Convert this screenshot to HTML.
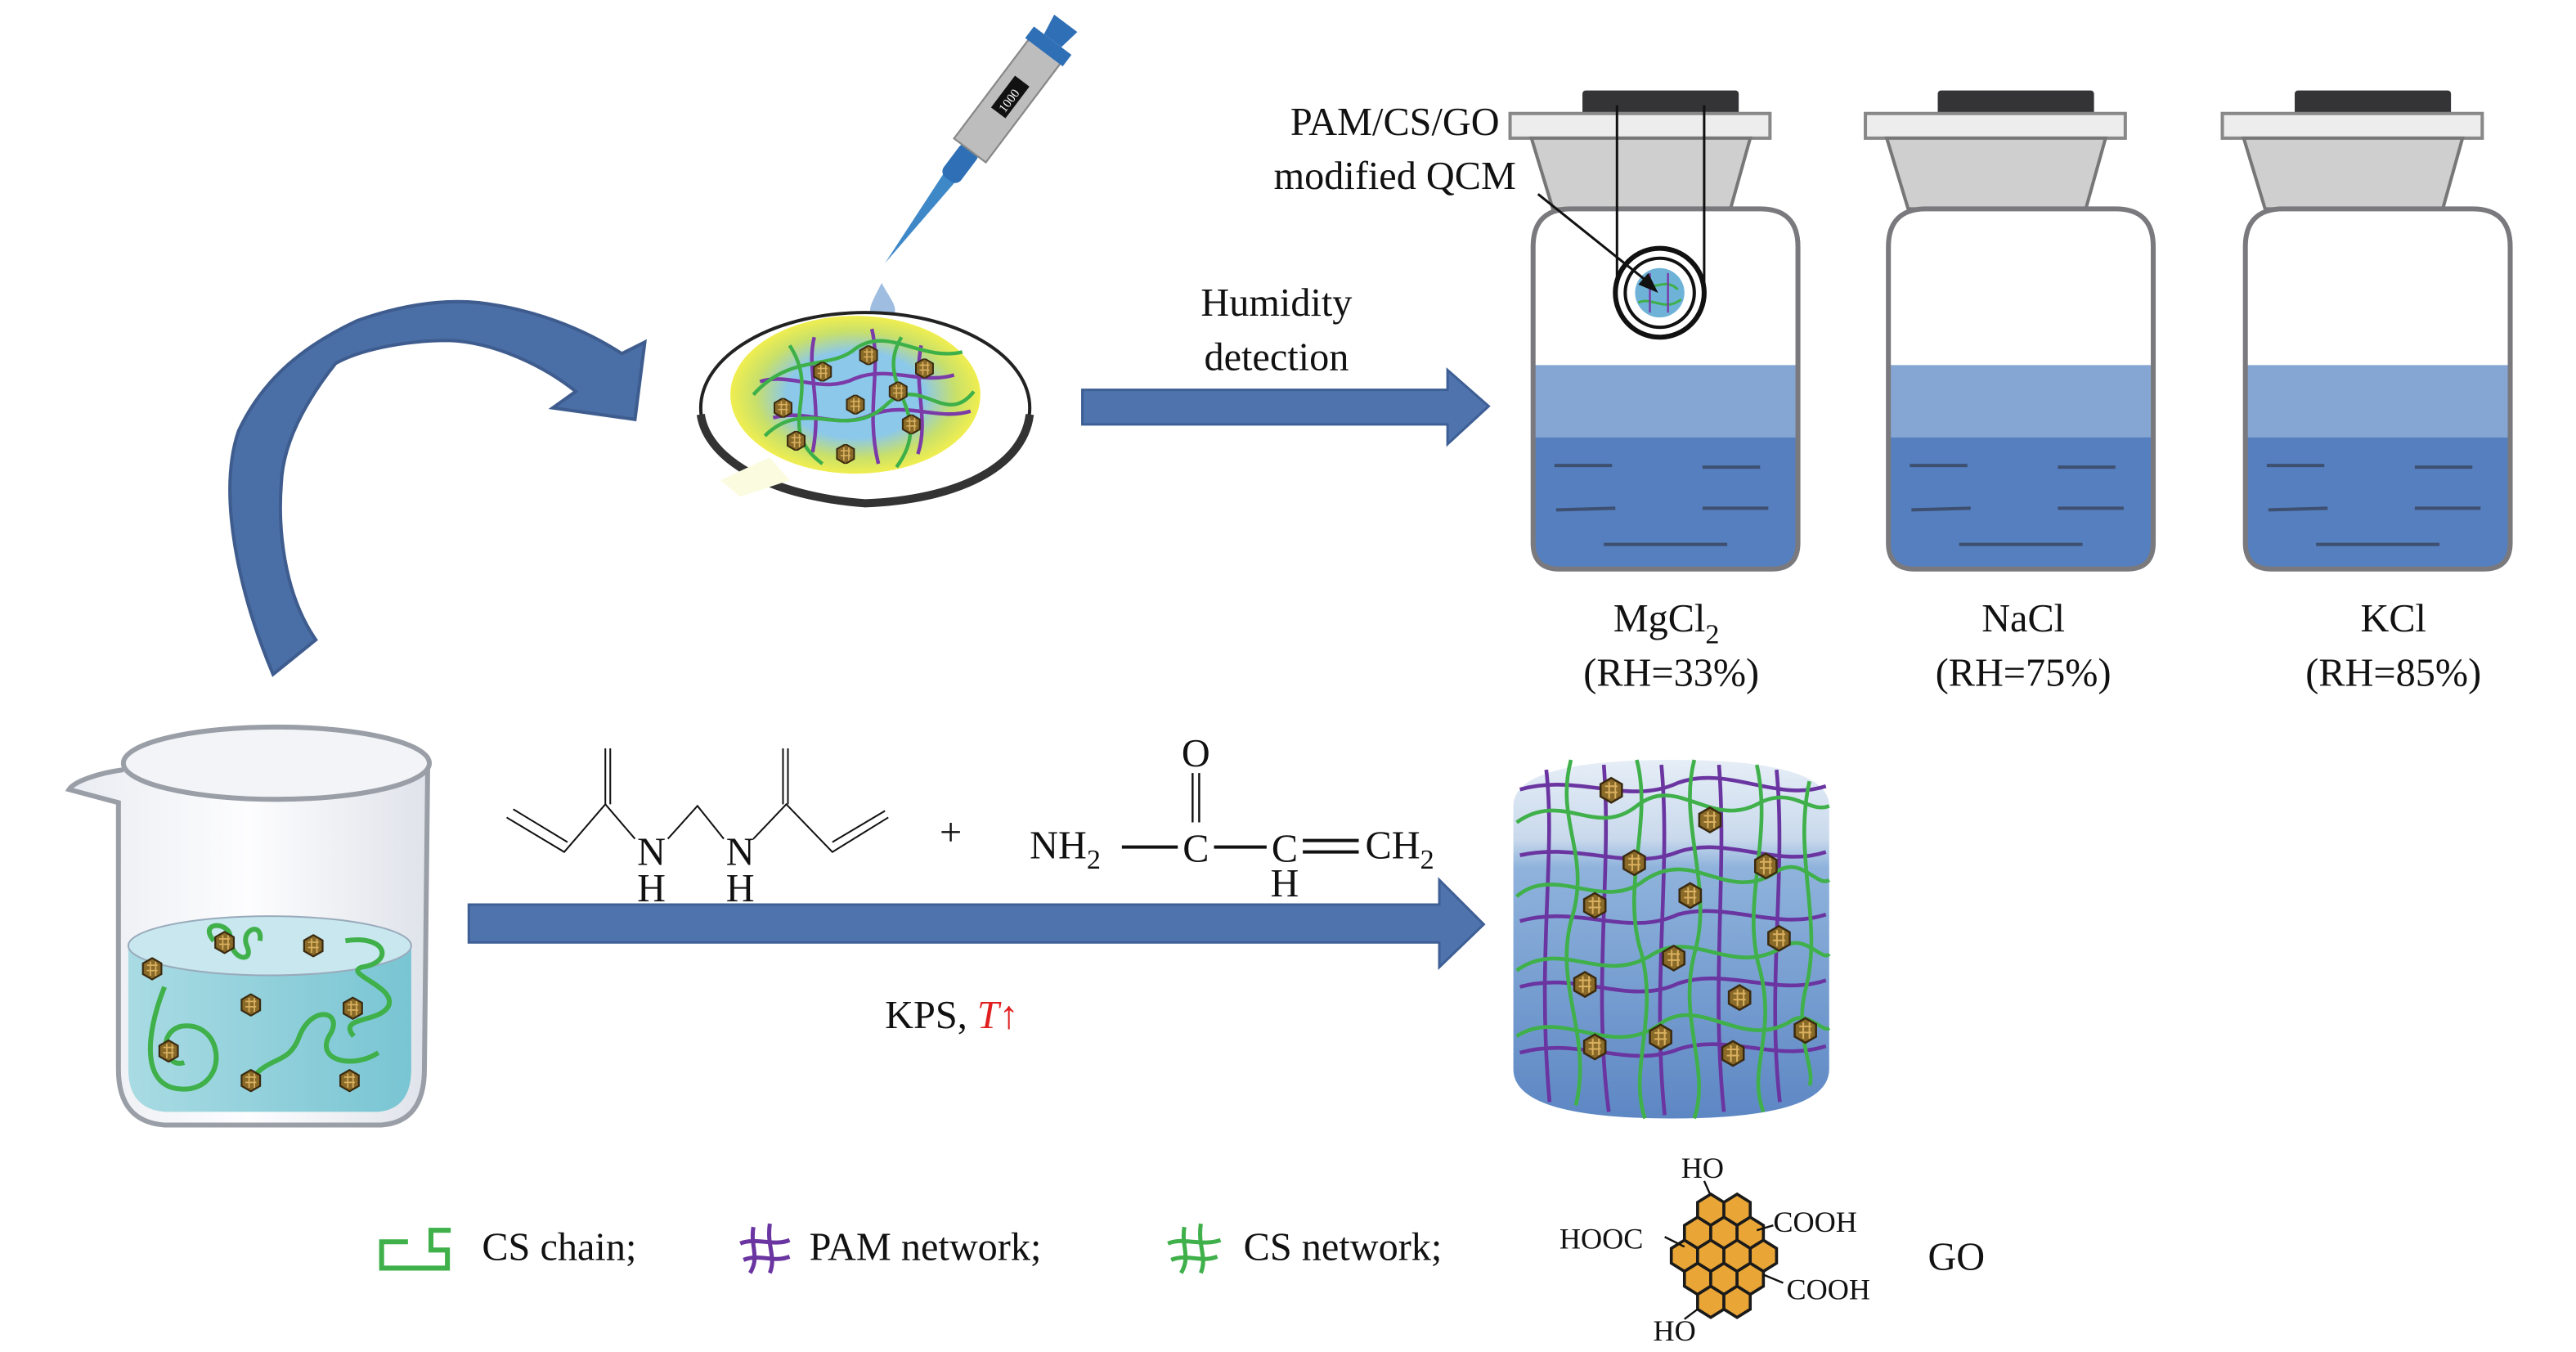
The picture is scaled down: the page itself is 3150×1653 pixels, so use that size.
<!DOCTYPE html>
<html><head><meta charset="utf-8"><style>
html,body{margin:0;padding:0;background:#fff;}
svg{display:block;}
text{font-family:"Liberation Serif",serif;fill:#111;}
</style></head><body>
<svg width="3150" height="1653" viewBox="0 0 1566 822" preserveAspectRatio="none" xmlns="http://www.w3.org/2000/svg">
<defs>
<symbol id="gp" viewBox="-6 -6 12 12">
<polygon points="0,-6 5.2,-3 5.2,3 0,6 -5.2,3 -5.2,-3" fill="#8a6a28" stroke="#3a2a10" stroke-width="1"/>
<path d="M-3,-2 h6 M-3,1 h6 M-1,-4 v8 M2,-4 v8" stroke="#d9b060" stroke-width="0.8"/>
</symbol>
<linearGradient id="bk" x1="0" x2="1"><stop offset="0" stop-color="#e9ecf2"/><stop offset="0.5" stop-color="#fdfdfe"/><stop offset="1" stop-color="#dfe3ea"/></linearGradient>
<linearGradient id="wt" x1="0" x2="1"><stop offset="0" stop-color="#a9dbe3"/><stop offset="1" stop-color="#79c5d3"/></linearGradient>
<linearGradient id="cy" x1="0" y1="0" x2="0" y2="1"><stop offset="0" stop-color="#e6eef7"/><stop offset="0.22" stop-color="#c9d9ec"/><stop offset="0.3" stop-color="#8fb3dc"/><stop offset="1" stop-color="#5d87c4"/></linearGradient>
<radialGradient id="gel" cx="0.5" cy="0.5" r="0.5"><stop offset="0.55" stop-color="#8cc8ea"/><stop offset="0.8" stop-color="#c8e06a"/><stop offset="1" stop-color="#f0ee50"/></radialGradient>
</defs>

<!-- curved arrow -->
<path d="M166,410 C145,360 132,300 145,262 C160,230 185,210 217,195 C245,185 270,182 291,184 C325,188 355,200 378,215 L392,208 L386,255 L336,248 L350,238 C330,222 300,208 273,207 C245,207 218,213 204,221 C185,245 172,270 171,294 C169,320 172,360 192,389 Z" fill="#4a6ea6" stroke="#3e5c8e" stroke-width="2"/>

<!-- pipette -->
<g transform="translate(538,160) rotate(-53) scale(1.1)">
<path d="M0,0 L60,-4 L60,4 Z" fill="#3f88c8"/>
<rect x="58" y="-6" width="22" height="12" rx="4" fill="#2f6fb5"/>
<rect x="78" y="-11" width="70" height="22" fill="#bdbdbd" stroke="#888" stroke-width="1"/>
<rect x="104" y="-5" width="22" height="10" fill="#111"/>
<text x="106" y="3" font-size="7" style="fill:#fff">1000</text>
<rect x="146" y="-13" width="8" height="26" fill="#2f6fb5"/>
<path d="M154,-6 L166,-8 L166,8 L154,6Z" fill="#2f6fb5"/>
</g>
<path d="M536,172 C531,182 527,188 530,192 C534,197 542,196 544,190 C545,185 540,180 536,172Z" fill="#9fbde0"/>

<!-- petri dish -->
<ellipse cx="526" cy="248" rx="100" ry="58" fill="#fff" stroke="#222" stroke-width="2"/>
<path d="M426,252 C430,280 470,302 526,306 C580,304 622,285 626,252" fill="none" stroke="#333" stroke-width="5"/>
<path d="M438,292 L468,278 L480,292 L450,302Z" fill="#fbfbe0"/>
<ellipse cx="520" cy="240" rx="76" ry="48" fill="url(#gel)"/>
<g fill="none" stroke-width="2.2">
<path d="M462,232 C480,226 500,240 520,230 C540,222 560,234 580,228" stroke="#7a3aa8"/>
<path d="M470,254 C490,248 510,262 530,252 C552,244 570,256 590,250" stroke="#7a3aa8"/>
<path d="M495,205 C490,225 500,245 494,275 M530,200 C536,225 526,250 534,282 M560,210 C555,235 565,255 558,276" stroke="#7a3aa8"/>
<path d="M458,240 C480,215 505,225 520,212 C540,198 560,220 585,214 M465,265 C490,240 515,270 540,245 C560,228 575,260 592,238 M480,210 C500,240 470,260 500,282 M548,205 C530,235 570,250 545,284" stroke="#3eb04a"/>
</g>
<g>
<use href="#gp" x="494" y="220" width="12" height="12"/><use href="#gp" x="522" y="210" width="12" height="12"/><use href="#gp" x="556" y="218" width="12" height="12"/>
<use href="#gp" x="470" y="242" width="12" height="12"/><use href="#gp" x="514" y="240" width="12" height="12"/><use href="#gp" x="548" y="252" width="12" height="12"/>
<use href="#gp" x="478" y="262" width="12" height="12"/><use href="#gp" x="508" y="270" width="12" height="12"/><use href="#gp" x="540" y="232" width="12" height="12"/>
</g>

<!-- top arrow -->
<path d="M658,237 L880,237 L880,225 L905,247 L880,270 L880,258 L658,258Z" fill="#4f74ad" stroke="#3e5f95" stroke-width="1.5"/>
<text x="776" y="192" font-size="24" text-anchor="middle">Humidity</text>
<text x="776" y="225" font-size="24" text-anchor="middle">detection</text>

<!-- bottles -->
<g id="b1">
<rect x="962" y="55" width="95" height="16" rx="2" fill="#343437"/>
<rect x="918" y="69" width="158" height="15" fill="#ededed" stroke="#888" stroke-width="2"/>
<path d="M931,84 L1064,84 L1052,127 L944,127Z" fill="#cfcfcf" stroke="#777" stroke-width="2"/>
<path d="M932,222 L1093,222 L1093,330 Q1093,346 1077,346 L948,346 Q932,346 932,330Z" fill="#85a6d2"/>
<path d="M932,266 L1093,266 L1093,330 Q1093,346 1077,346 L948,346 Q932,346 932,330Z" fill="#557fbf"/>
<path d="M932,150 Q932,127 955,127 L1070,127 Q1093,127 1093,150 L1093,330 Q1093,346 1077,346 L948,346 Q932,346 932,330Z" fill="none" stroke="#7a7a7e" stroke-width="3"/>
<g stroke="#3e4f70" stroke-width="2"><line x1="945" y1="283" x2="980" y2="283"/><line x1="1035" y1="284" x2="1070" y2="284"/><line x1="946" y1="310" x2="982" y2="309"/><line x1="1035" y1="309" x2="1075" y2="309"/><line x1="975" y1="331" x2="1050" y2="331"/></g>
</g>
<use href="#b1" x="216"/>
<use href="#b1" x="433"/>
<!-- QCM -->
<line x1="983" y1="64" x2="983" y2="180" stroke="#111" stroke-width="1.5"/>
<line x1="1036" y1="64" x2="1036" y2="180" stroke="#111" stroke-width="1.5"/>
<ellipse cx="1009" cy="178" rx="27" ry="27" fill="#fff" stroke="#111" stroke-width="3"/>
<ellipse cx="1009" cy="178" rx="21" ry="21" fill="none" stroke="#111" stroke-width="2"/>
<circle cx="1009" cy="178" r="15" fill="#6fb2d8"/>
<path d="M998,172 C1005,178 1012,168 1020,176 M996,184 C1004,180 1012,190 1022,182" stroke="#3eb04a" stroke-width="1.5" fill="none"/>
<path d="M1003,166 V190 M1014,166 V190" stroke="#7a3aa8" stroke-width="1.2"/>
<line x1="935" y1="118" x2="1005" y2="174" stroke="#111" stroke-width="1.5"/>
<path d="M1008,178 L996,173 L1002,166Z" fill="#111"/>
<text x="848" y="82" font-size="24" text-anchor="middle">PAM/CS/GO</text>
<text x="848" y="115" font-size="24" text-anchor="middle">modified QCM</text>

<text x="1013" y="384" font-size="24" text-anchor="middle">MgCl<tspan font-size="17" dy="7">2</tspan></text>
<text x="1016" y="417" font-size="24" text-anchor="middle">(RH=33%)</text>
<text x="1230" y="384" font-size="24" text-anchor="middle">NaCl</text>
<text x="1230" y="417" font-size="24" text-anchor="middle">(RH=75%)</text>
<text x="1455" y="384" font-size="24" text-anchor="middle">KCl</text>
<text x="1455" y="417" font-size="24" text-anchor="middle">(RH=85%)</text>

<!-- beaker -->
<path d="M75,468 C60,470 45,475 42,480 L72,488 L72,650 Q72,682 100,684 L232,684 Q258,682 258,650 L260,466" fill="url(#bk)" stroke="#9a9ea6" stroke-width="3"/>
<ellipse cx="168" cy="464" rx="93" ry="22" fill="#f3f4f7" stroke="#9a9ea6" stroke-width="3"/>
<path d="M78,575 L78,650 Q78,674 100,676 L230,676 Q250,674 250,650 L250,575Z" fill="url(#wt)"/>
<ellipse cx="164" cy="575" rx="86" ry="18" fill="#c8e7ee" stroke="#9ab" stroke-width="1"/>
<g fill="none" stroke="#3fb04a" stroke-width="3">
<path d="M130,572 C120,560 140,560 140,570 C140,584 155,586 150,575 C146,565 160,560 158,572"/>
<path d="M210,572 C235,568 240,585 220,588 C208,592 242,600 236,612 C230,622 205,618 215,630"/>
<path d="M100,600 C88,630 85,665 115,662 C140,658 135,620 110,624 C95,628 100,650 112,646"/>
<path d="M150,662 C160,640 175,650 182,630 C190,610 210,615 200,630 C192,645 215,650 230,640"/>
</g>
<g>
<use href="#gp" x="86" y="582" width="13" height="14"/><use href="#gp" x="130" y="566" width="13" height="14"/><use href="#gp" x="184" y="568" width="13" height="14"/>
<use href="#gp" x="146" y="604" width="13" height="14"/><use href="#gp" x="208" y="606" width="13" height="14"/><use href="#gp" x="96" y="632" width="13" height="14"/>
<use href="#gp" x="146" y="650" width="13" height="14"/><use href="#gp" x="206" y="650" width="13" height="14"/>
</g>

<!-- chemistry -->
<g stroke="#111" stroke-width="1" fill="none">
<path d="M308,497 L343,518 L368,489 L386,510"/>
<path d="M312,492 L345,512"/>
<path d="M368,489 L368,455 M371,489 L371,455"/>
<path d="M406,510 L424,490 L440,510"/>
<path d="M458,510 L478,489 L506,518 L540,497"/>
<path d="M476,489 L476,455 M479,489 L479,455"/>
<path d="M506,512 L538,493"/>
</g>
<text x="396" y="526" font-size="24" text-anchor="middle">N</text>
<text x="396" y="548" font-size="24" text-anchor="middle">H</text>
<text x="450" y="526" font-size="24" text-anchor="middle">N</text>
<text x="450" y="548" font-size="24" text-anchor="middle">H</text>
<text x="578" y="514" font-size="24" text-anchor="middle">+</text>
<text x="626" y="522" font-size="24">NH<tspan font-size="17" dy="6">2</tspan></text>
<line x1="682" y1="515" x2="716" y2="515" stroke="#111" stroke-width="2"/>
<text x="727" y="524" font-size="24" text-anchor="middle">C</text>
<line x1="738" y1="515" x2="770" y2="515" stroke="#111" stroke-width="2"/>
<text x="781" y="524" font-size="24" text-anchor="middle">C</text>
<path d="M792,511 H826 M792,518 H826" stroke="#111" stroke-width="2"/>
<text x="830" y="522" font-size="24">CH<tspan font-size="17" dy="6">2</tspan></text>
<path d="M725,470 V500 M729,470 V500" stroke="#111" stroke-width="1.2"/>
<text x="727" y="466" font-size="24" text-anchor="middle">O</text>
<text x="781" y="545" font-size="24" text-anchor="middle">H</text>

<!-- bottom arrow -->
<path d="M285,550 L875,550 L875,535 L902,562 L875,588 L875,573 L285,573Z" fill="#4f74ad" stroke="#3e5f95" stroke-width="1.5"/>
<text x="538" y="625" font-size="24">KPS, <tspan style="fill:#e02020;font-style:italic">T</tspan><tspan style="fill:#e02020">↑</tspan></text>

<!-- cylinder gel -->
<path d="M920,490 Q920,462 1016,462 Q1112,462 1112,490 L1112,650 Q1112,680 1016,680 Q920,680 920,650Z" fill="url(#cy)"/>
<g fill="none" stroke-width="2.3">
<g stroke="#6a35a0">
<path d="M924,480 C960,470 990,490 1020,476 C1050,465 1080,488 1110,478"/>
<path d="M924,520 C960,512 990,530 1020,518 C1050,508 1080,528 1110,518"/>
<path d="M924,560 C960,550 990,570 1020,556 C1050,548 1080,566 1110,556"/>
<path d="M924,600 C960,590 990,612 1020,598 C1050,588 1080,606 1110,596"/>
<path d="M924,640 C960,630 990,650 1020,638 C1050,628 1080,646 1110,636"/>
<path d="M940,468 C946,520 934,580 942,670 M975,465 C980,530 968,600 978,676 M1010,465 C1016,530 1004,600 1012,678 M1045,465 C1050,530 1040,600 1048,676 M1080,468 C1086,530 1074,600 1082,670"/>
</g>
<g stroke="#3fb04a">
<path d="M922,500 C950,480 970,510 995,490 C1020,470 1040,505 1070,488 C1090,478 1100,495 1112,490"/>
<path d="M922,545 C945,525 975,555 1000,535 C1030,515 1050,550 1080,530 C1095,520 1105,540 1112,535"/>
<path d="M922,590 C950,570 975,600 1005,580 C1030,565 1055,595 1085,575 C1098,568 1108,585 1112,580"/>
<path d="M922,630 C950,612 980,645 1010,622 C1035,605 1060,640 1090,620 C1100,615 1108,628 1112,625"/>
<path d="M955,462 C945,500 968,520 955,560 C945,600 968,630 958,672 M995,462 C1005,500 985,540 998,580 C1008,620 990,650 1000,680 M1030,462 C1020,500 1042,540 1030,580 C1020,620 1040,650 1030,680 M1068,465 C1078,510 1058,550 1070,590 C1080,630 1062,650 1072,676 M1100,475 C1090,520 1108,560 1098,600 C1090,630 1104,650 1100,660"/>
</g>
</g>
<g>
<use href="#gp" x="972" y="472" width="15" height="17"/><use href="#gp" x="1032" y="490" width="15" height="17"/><use href="#gp" x="986" y="516" width="15" height="17"/>
<use href="#gp" x="1066" y="518" width="15" height="17"/><use href="#gp" x="962" y="542" width="15" height="17"/><use href="#gp" x="1020" y="536" width="15" height="17"/>
<use href="#gp" x="1010" y="574" width="15" height="17"/><use href="#gp" x="1074" y="562" width="15" height="17"/><use href="#gp" x="956" y="590" width="15" height="17"/>
<use href="#gp" x="1050" y="598" width="15" height="17"/><use href="#gp" x="962" y="628" width="15" height="17"/><use href="#gp" x="1002" y="622" width="15" height="17"/>
<use href="#gp" x="1046" y="632" width="15" height="17"/><use href="#gp" x="1090" y="618" width="15" height="17"/>
</g>

<!-- legend -->
<path d="M248,755 L232,755 L232,771 L272,771 L272,760 L262,760 L262,748 L274,748" fill="none" stroke="#3fb04a" stroke-width="3"/>
<text x="293" y="766" font-size="24">CS chain;</text>
<g stroke="#6a35a0" stroke-width="2.5" fill="none"><path d="M458,746 C456,758 462,764 456,774 M468,744 C466,758 472,764 468,774 M450,756 C460,752 470,758 480,754 M452,766 C462,762 470,768 480,764"/></g>
<text x="492" y="766" font-size="24">PAM network;</text>
<g stroke="#3fb04a" stroke-width="2.5" fill="none"><path d="M720,746 C718,758 724,764 718,774 M730,744 C728,758 734,764 730,774 M710,756 C720,752 730,758 742,754 M712,766 C722,762 730,768 740,764"/></g>
<text x="756" y="766" font-size="24">CS network;</text>

<!-- GO honeycomb -->
<g fill="#e9a536" stroke="#1a1a1a" stroke-width="1.8">
<polygon points="1040,726 1048,731 1048,740 1040,745 1032,740 1032,731"/>
<polygon points="1056,726 1064,731 1064,740 1056,745 1048,740 1048,731"/>
<polygon points="1032,740 1040,745 1040,754 1032,759 1024,754 1024,745"/>
<polygon points="1048,740 1056,745 1056,754 1048,759 1040,754 1040,745"/>
<polygon points="1064,740 1072,745 1072,754 1064,759 1056,754 1056,745"/>
<polygon points="1024,754 1032,759 1032,768 1024,773 1016,768 1016,759"/>
<polygon points="1040,754 1048,759 1048,768 1040,773 1032,768 1032,759"/>
<polygon points="1056,754 1064,759 1064,768 1056,773 1048,768 1048,759"/>
<polygon points="1072,754 1080,759 1080,768 1072,773 1064,768 1064,759"/>
<polygon points="1032,768 1040,773 1040,782 1032,787 1024,782 1024,773"/>
<polygon points="1048,768 1056,773 1056,782 1048,787 1040,782 1040,773"/>
<polygon points="1064,768 1072,773 1072,782 1064,787 1056,782 1056,773"/>
<polygon points="1040,782 1048,787 1048,796 1040,801 1032,796 1032,787"/>
<polygon points="1056,782 1064,787 1064,796 1056,801 1048,796 1048,787"/>
</g>
<g stroke="#111" stroke-width="1.2"><line x1="1036" y1="718" x2="1040" y2="727"/><line x1="1012" y1="752" x2="1024" y2="758"/><line x1="1078" y1="745" x2="1068" y2="748"/><line x1="1084" y1="780" x2="1072" y2="775"/><line x1="1024" y1="802" x2="1032" y2="796"/></g>
<text x="1022" y="716" font-size="18">HO</text>
<text x="948" y="759" font-size="18">HOOC</text>
<text x="1078" y="749" font-size="18">COOH</text>
<text x="1086" y="790" font-size="18">COOH</text>
<text x="1005" y="815" font-size="18">HO</text>
<text x="1172" y="772" font-size="24">GO</text>
</svg>
</body></html>
